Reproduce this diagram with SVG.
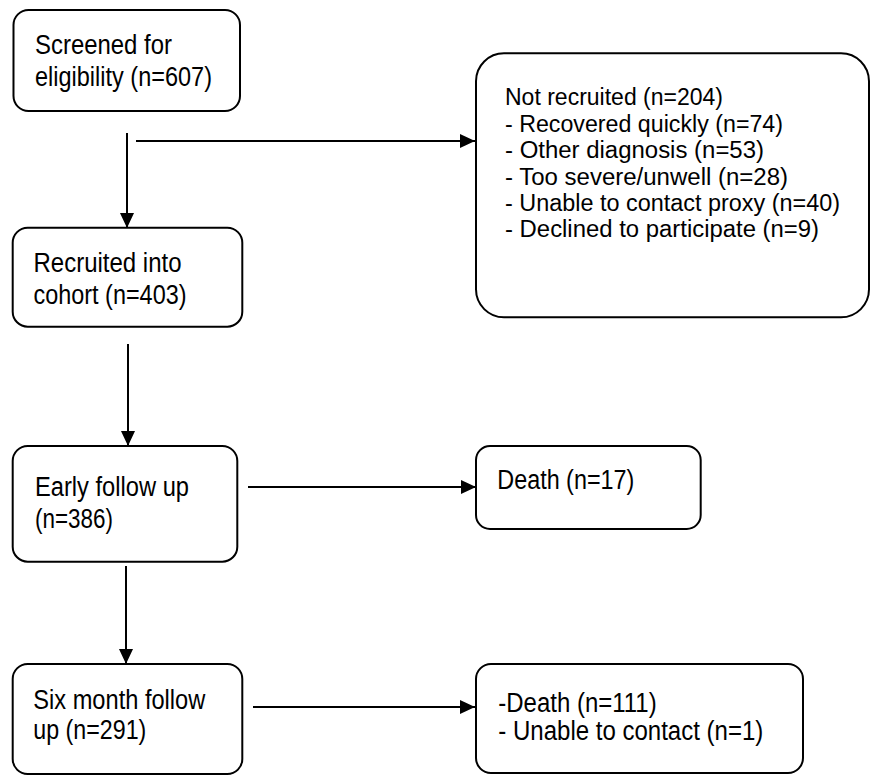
<svg xmlns="http://www.w3.org/2000/svg" width="871" height="776" viewBox="0 0 871 776">
<defs>
<style>
.box{fill:#fff;stroke:#000;stroke-width:2}
.t{font-family:"Liberation Sans",Arial,sans-serif;font-size:27px;fill:#000}
.s{font-size:23.5px}
.c{stroke:#000;stroke-width:2;fill:none;marker-end:url(#ah)}
</style>
<marker id="ah" viewBox="0 0 15 14" refX="15" refY="7" markerWidth="15" markerHeight="14" markerUnits="userSpaceOnUse" orient="auto">
<path d="M0,0 L15,7 L0,14 z" fill="#000"/>
</marker>
</defs>
<rect width="871" height="776" fill="#fff"/>
<g id="connectors">
<line class="c" x1="127" y1="133" x2="127" y2="228"/>
<line class="c" x1="136" y1="141" x2="475" y2="141"/>
<line class="c" x1="128" y1="344" x2="128" y2="446"/>
<line class="c" x1="248" y1="487" x2="476" y2="487"/>
<line class="c" x1="126" y1="566" x2="126" y2="664"/>
<line class="c" x1="253" y1="707" x2="475" y2="707"/>
</g>
<g id="screened">
<rect class="box" x="13.5" y="10" width="226.5" height="101" rx="15"/>
<text class="t" x="35" y="54" textLength="137" lengthAdjust="spacingAndGlyphs">Screened for</text>
<text class="t" x="35" y="86" textLength="177" lengthAdjust="spacingAndGlyphs">eligibility (n=607)</text>
</g>
<g id="recruited">
<rect class="box" x="12.7" y="227.7" width="229.6" height="99" rx="15"/>
<text class="t" x="33.5" y="271.5" textLength="148" lengthAdjust="spacingAndGlyphs">Recruited into</text>
<text class="t" x="33.5" y="303.5" textLength="153" lengthAdjust="spacingAndGlyphs">cohort (n=403)</text>
</g>
<g id="early">
<rect class="box" x="12.7" y="446" width="224.6" height="115.7" rx="15"/>
<text class="t" x="35" y="496" textLength="154" lengthAdjust="spacingAndGlyphs">Early follow up</text>
<text class="t" x="35" y="528" textLength="78" lengthAdjust="spacingAndGlyphs">(n=386)</text>
</g>
<g id="sixmonth">
<rect class="box" x="12.7" y="664" width="229.6" height="110" rx="15"/>
<text class="t" x="33.3" y="709" textLength="172" lengthAdjust="spacingAndGlyphs">Six month follow</text>
<text class="t" x="33.3" y="739" textLength="113" lengthAdjust="spacingAndGlyphs">up (n=291)</text>
</g>
<g id="notrecruited">
<rect class="box" x="476" y="53.3" width="393" height="264" rx="28"/>
<text class="t s" x="505" y="105" textLength="218" lengthAdjust="spacingAndGlyphs">Not recruited (n=204)</text>
<text class="t s" x="505" y="131.5" textLength="278" lengthAdjust="spacingAndGlyphs">- Recovered  quickly (n=74)</text>
<text class="t s" x="505" y="158" textLength="259" lengthAdjust="spacingAndGlyphs">- Other diagnosis (n=53)</text>
<text class="t s" x="505" y="184.5" textLength="283" lengthAdjust="spacingAndGlyphs">- Too severe/unwell  (n=28)</text>
<text class="t s" x="505" y="210.5" textLength="335" lengthAdjust="spacingAndGlyphs">- Unable to contact proxy (n=40)</text>
<text class="t s" x="505" y="236.5" textLength="314" lengthAdjust="spacingAndGlyphs">- Declined to participate (n=9)</text>
</g>
<g id="death17">
<rect class="box" x="476" y="446" width="224.7" height="83" rx="14"/>
<text class="t" x="497.3" y="489" textLength="137" lengthAdjust="spacingAndGlyphs">Death (n=17)</text>
</g>
<g id="death111">
<rect class="box" x="476" y="664" width="327" height="109" rx="15"/>
<text class="t" x="498.3" y="711.5" textLength="158.4" lengthAdjust="spacingAndGlyphs">-Death (n=111)</text>
<text class="t" x="498.3" y="740" textLength="265" lengthAdjust="spacingAndGlyphs">- Unable to contact (n=1)</text>
</g>
</svg>
